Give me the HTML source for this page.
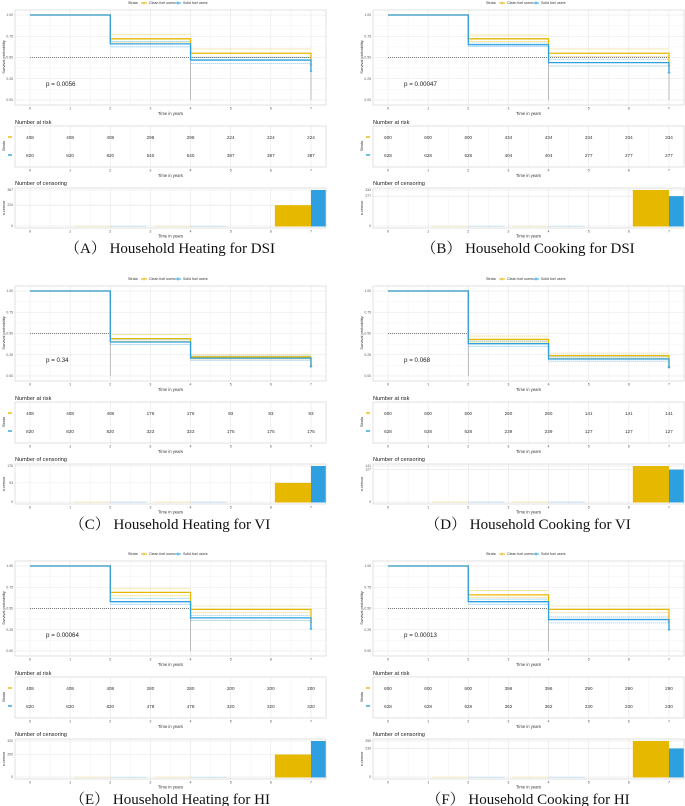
<!DOCTYPE html>
<html><head><meta charset="utf-8">
<style>
html,body{margin:0;padding:0;background:#fff;}
svg{display:block;font-family:"Liberation Sans",sans-serif;}
.cap{font-family:"Liberation Serif","Noto Serif CJK SC",serif;}
</style></head>
<body>
<svg id="fig" width="685" height="806" viewBox="0 0 685 806" xmlns="http://www.w3.org/2000/svg"></svg>
<script>
const panelTitles = ["（A） Household Heating for DSI","（B） Household Cooking for DSI","（C） Household Heating for VI","（D） Household Cooking for VI","（E） Household Heating for HI","（F） Household Cooking for HI"];
const pValues = ["p = 0.0056","p = 0.00047","p = 0.34","p = 0.068","p = 0.00064","p = 0.00013"];
const stepTimes = [0,2,4,7];
const survClean = [[1,0.72,0.55],[1,0.72,0.55],[1,0.44,0.225],[1,0.43,0.24],[1,0.69,0.49],[1,0.66,0.49]];
const survSolid = [[1,0.66,0.47],[1,0.65,0.44],[1,0.40,0.21],[1,0.38,0.20],[1,0.58,0.39],[1,0.58,0.37]];
const ciCleanUpper = [[0.77,0.60],[0.765,0.60],[0.49,0.25],[0.47,0.27],[0.73,0.53],[0.71,0.53]];
const ciCleanLower = [[0.68,0.505],[0.69,0.51],[0.41,0.20],[0.40,0.21],[0.65,0.45],[0.63,0.45]];
const ciSolidUpper = [[0.69,0.50],[0.67,0.48],[0.43,0.235],[0.41,0.225],[0.62,0.42],[0.61,0.40]];
const ciSolidLower = [[0.625,0.43],[0.63,0.40],[0.37,0.185],[0.35,0.175],[0.55,0.36],[0.55,0.33]];
const endClean = [0.41,0.40,0.12,0.11,0.34,0.34];
const endSolid = [0.34,0.32,0.11,0.10,0.26,0.25];
const medianX = [7,7,2,2,4,4];
const medianDrops = [[4,7],[4,7],[2],[2],[4],[4]];
const riskTimes = [0,1,2,3,4,5,6,7];
const riskClean = [[408,408,408,298,298,224,224,224],[600,600,600,434,434,334,334,334],[408,408,408,176,176,93,93,93],[600,600,600,260,260,141,141,141],[408,408,408,280,280,200,200,200],[600,600,600,396,396,290,290,290]];
const riskSolid = [[820,820,820,540,540,387,387,387],[628,628,628,404,404,277,277,277],[820,820,820,323,323,175,175,175],[628,628,628,239,239,127,127,127],[820,820,820,478,478,320,320,320],[628,628,628,362,362,230,230,230]];
const censorTimes = [2,4,7];
const censorClean = [[1,1,224],[1,1,334],[1,1,93],[1,1,141],[1,1,200],[1,1,290]];
const censorSolid = [[1,1,387],[1,1,277],[1,1,175],[1,1,127],[1,1,320],[1,1,230]];
const survTicks = ["0.00","0.25","0.50","0.75","1.00"];

const YEL="#E7B800", BLU="#2E9FDF";
const svg=document.getElementById('fig');
const NS="http://www.w3.org/2000/svg";
function mk(tag,attrs,parent,text){const e=document.createElementNS(NS,tag);for(const k in attrs)e.setAttribute(k,attrs[k]);if(text!==undefined)e.textContent=text;(parent||svg).appendChild(e);return e;}

for(let p=0;p<6;p++){
  const ox=(p%2)*358, oy=[0,276,551][Math.floor(p/2)];
  const g=mk('g',{});
  
  
  const X=t=>ox+30+t*40.14;
  const Y=v=>oy+100-85*v;
  const L=ox+15,R=ox+326;
  // legend
  const lg=mk('g',{},g);
  
  
  mk('text',{x:ox+128,y:oy+4,'font-size':3.6,fill:'#333'},lg,'Strata');
  mk('line',{x1:ox+141,y1:oy+3,x2:ox+147,y2:oy+3,stroke:YEL,'stroke-width':1},lg);
  mk('line',{x1:ox+144,y1:oy+1.5,x2:ox+144,y2:oy+4.5,stroke:YEL,'stroke-width':0.8},lg);
  mk('text',{x:ox+149,y:oy+4,'font-size':3.6,fill:'#333'},lg,'Clean fuel users');
  mk('line',{x1:ox+175,y1:oy+3,x2:ox+181,y2:oy+3,stroke:BLU,'stroke-width':1},lg);
  mk('line',{x1:ox+178,y1:oy+1.5,x2:ox+178,y2:oy+4.5,stroke:BLU,'stroke-width':0.8},lg);
  mk('text',{x:ox+183,y:oy+4,'font-size':3.6,fill:'#333'},lg,'Solid fuel users');
  // survival box + grid
  const sb=mk('g',{},g);
  
  
  for(let t=-0.5;t<=7.5;t+=0.5){const xx=X(t);if(xx<L||xx>R)continue;mk('line',{x1:xx,y1:oy+10,x2:xx,y2:oy+105,stroke:(t%1===0)?'#e6e6e6':'#f3f3f3','stroke-width':0.6},sb);}
  for(let v=0;v<=1.0001;v+=0.125){mk('line',{x1:L,y1:Y(v),x2:R,y2:Y(v),stroke:(Math.round(v*8)%2===0)?'#e6e6e6':'#f3f3f3','stroke-width':0.6},sb);}
  mk('rect',{x:L,y:oy+10,width:R-L,height:95,fill:'none',stroke:'#d6d6d6','stroke-width':0.7},sb);
  survTicks.forEach((s,i)=>mk('text',{x:ox+13,y:Y(i*0.25)+1,'font-size':3.4,fill:'#555','text-anchor':'end'},sb,s));
  for(let t=0;t<=7;t++) mk('text',{x:X(t),y:oy+109.5,'font-size':3.6,fill:'#555','text-anchor':'middle'},sb,String(t));
  mk('text',{x:(L+R)/2,y:oy+115,'font-size':4.2,fill:'#333','text-anchor':'middle'},sb,'Time in years');
  mk('text',{x:0,y:0,'font-size':4,fill:'#333','text-anchor':'middle',transform:`translate(${ox+5},${oy+57}) rotate(-90)`},sb,'Survival probability');
  // median
  mk('line',{x1:X(0),y1:Y(0.5),x2:X(medianX[p]),y2:Y(0.5),stroke:'#555','stroke-width':0.7,'stroke-dasharray':'1,1'},sb);
  medianDrops[p].forEach(t=>mk('line',{x1:X(t),y1:Y(0.5),x2:X(t),y2:Y(0),stroke:'#555','stroke-width':0.7,'stroke-dasharray':'1,1'},sb));
  // CI dotted
  function ci(arr,col){for(let k=0;k<2;k++){mk('line',{x1:X(stepTimes[k+1]),y1:Y(arr[p][k]),x2:X(stepTimes[k+2]),y2:Y(arr[p][k]),stroke:col,'stroke-width':0.7,'stroke-dasharray':'1.2,0.8','stroke-opacity':0.75},sb);}}
  ci(ciCleanUpper,YEL);ci(ciCleanLower,YEL);ci(ciSolidUpper,BLU);ci(ciSolidLower,BLU);
  function curve(vals,end,col,name){
    let d=`M${X(0)},${Y(vals[0])}`;
    for(let k=0;k<3;k++){d+=` H${X(stepTimes[k+1])}`;if(k<2)d+=` V${Y(vals[k+1])}`;}
    d+=` V${Y(end)}`;
    const pa=mk('path',{d:d,fill:'none',stroke:col,'stroke-width':1.3},sb);
    
    
    mk('path',{d:`M${X(7)-1.3},${Y(end)} h2.6 M${X(7)},${Y(end)-1.3} v2.6`,stroke:col,'stroke-width':0.7},sb);
  }
  curve(survClean[p],endClean[p],YEL,'clean-fuel-curve');
  curve(survSolid[p],endSolid[p],BLU,'solid-fuel-curve');
  mk('text',{x:X(0.4),y:oy+86,'font-size':6.2,fill:'#222'},sb,pValues[p]);
  // risk table
  const rt=mk('g',{},g);
  
  
  mk('text',{x:L,y:oy+124,'font-size':5.6,fill:'#222'},rt,'Number at risk');
  for(let t=-0.5;t<=7.5;t+=0.5){const xx=X(t);if(xx<L||xx>R)continue;mk('line',{x1:xx,y1:oy+126,x2:xx,y2:oy+167,stroke:(t%1===0)?'#e6e6e6':'#f3f3f3','stroke-width':0.6},rt);}
  mk('rect',{x:L,y:oy+126,width:R-L,height:41,fill:'none',stroke:'#d6d6d6','stroke-width':0.7},rt);
  mk('line',{x1:ox+8,y1:oy+137,x2:ox+12,y2:oy+137,stroke:YEL,'stroke-width':1.4},rt);
  mk('line',{x1:ox+8,y1:oy+155,x2:ox+12,y2:oy+155,stroke:BLU,'stroke-width':1.4},rt);
  mk('text',{x:0,y:0,'font-size':3.8,fill:'#333','text-anchor':'middle',transform:`translate(${ox+5},${oy+146}) rotate(-90)`},rt,'Strata');
  riskTimes.forEach((t,i)=>{
    mk('text',{x:X(t),y:oy+139,'font-size':4.6,fill:'#333','text-anchor':'middle'},rt,String(riskClean[p][i]));
    mk('text',{x:X(t),y:oy+157,'font-size':4.6,fill:'#333','text-anchor':'middle'},rt,String(riskSolid[p][i]));
    mk('text',{x:X(t),y:oy+171.5,'font-size':3.6,fill:'#555','text-anchor':'middle'},rt,String(t));
  });
  mk('text',{x:(L+R)/2,y:oy+177,'font-size':4.2,fill:'#333','text-anchor':'middle'},rt,'Time in years');
  // censor plot
  const cp=mk('g',{},g);
  
  
  mk('text',{x:L,y:oy+185,'font-size':5.6,fill:'#222'},cp,'Number of censoring');
  const mx=Math.max(...censorClean[p],...censorSolid[p]);
  const CY=v=>oy+226-36*v/mx;
  for(let t=-0.5;t<=7.5;t+=0.5){const xx=X(t);if(xx<L||xx>R)continue;mk('line',{x1:xx,y1:oy+188,x2:xx,y2:oy+228,stroke:(t%1===0)?'#e6e6e6':'#f3f3f3','stroke-width':0.6},cp);}
  [0,censorClean[p][2],censorSolid[p][2]].forEach(v=>{
    mk('line',{x1:L,y1:CY(v),x2:R,y2:CY(v),stroke:'#e6e6e6','stroke-width':0.6},cp);
    mk('text',{x:ox+13,y:CY(v)+1,'font-size':3.4,fill:'#555','text-anchor':'end'},cp,String(v));
  });
  censorTimes.forEach((t,i)=>{
    const vc=censorClean[p][i], vs=censorSolid[p][i];
    const b1=mk('rect',{x:X(t-0.9),y:CY(vc),width:X(t)-X(t-0.9),height:CY(0)-CY(vc)+0.5,fill:YEL,'fill-opacity':t===7?1:0.35},cp);
    
    
    const xe=Math.min(X(t+0.9),R);
    const b2=mk('rect',{x:X(t),y:CY(vs),width:xe-X(t),height:CY(0)-CY(vs)+0.5,fill:BLU,'fill-opacity':t===7?1:0.35},cp);
    
    
  });
  mk('rect',{x:L,y:oy+188,width:R-L,height:40,fill:'none',stroke:'#d6d6d6','stroke-width':0.7},cp);
  for(let t=0;t<=7;t++) mk('text',{x:X(t),y:oy+232.5,'font-size':3.6,fill:'#555','text-anchor':'middle'},cp,String(t));
  mk('text',{x:(L+R)/2,y:oy+237.5,'font-size':4.2,fill:'#333','text-anchor':'middle'},cp,'Time in years');
  mk('text',{x:0,y:0,'font-size':3.8,fill:'#333','text-anchor':'middle',transform:`translate(${ox+5},${oy+208}) rotate(-90)`},cp,'n.censor');
  const cap=mk('text',{x:ox+170,y:oy+253,'font-size':15,fill:'#111','text-anchor':'middle','class':'cap'},g,panelTitles[p]);
  
  
}
</script>
</body></html>
